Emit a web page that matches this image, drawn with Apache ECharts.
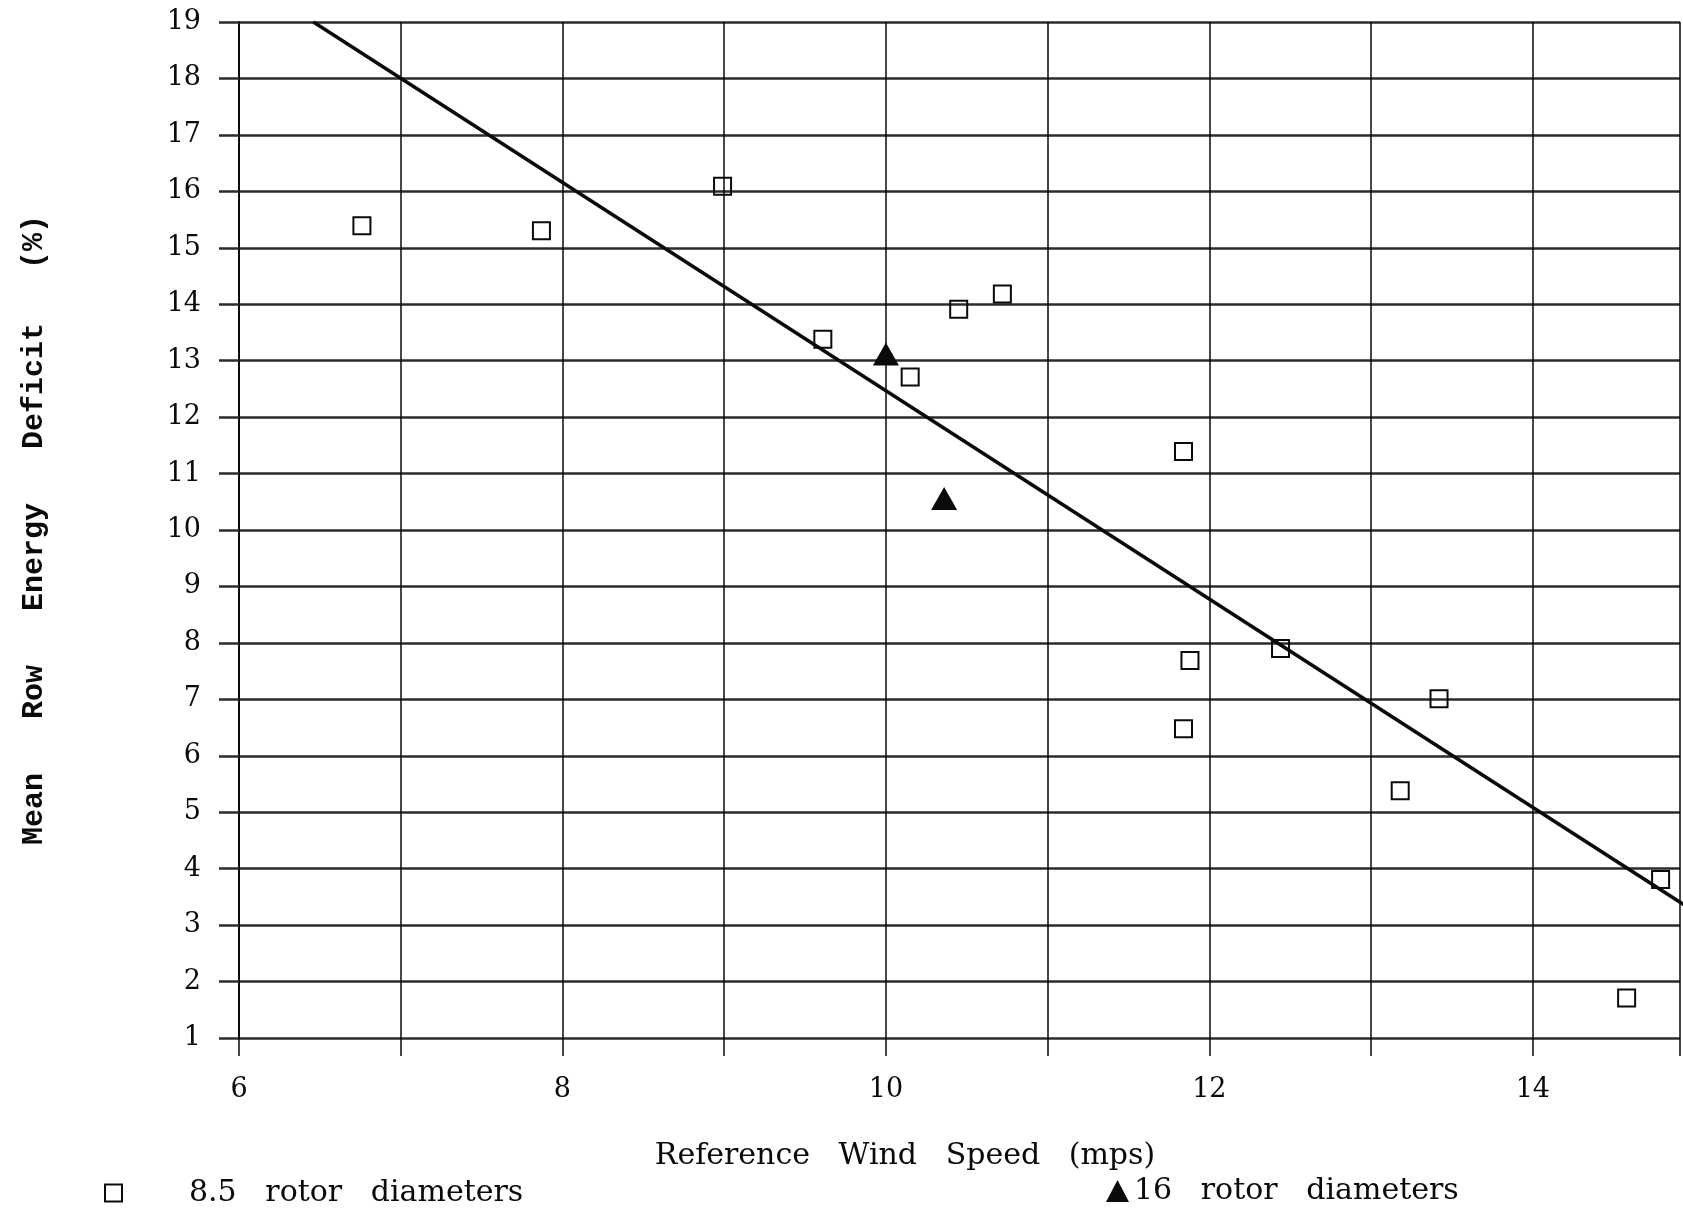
<!DOCTYPE html>
<html>
<head>
<meta charset="utf-8">
<script src="https://cdn.jsdelivr.net/npm/echarts@6/dist/echarts.min.js"></script>
<style>
  html, body { margin: 0; padding: 0; background: #ffffff; }
  #chart { width: 1683px; height: 1208px; }
</style>
</head>
<body>
<div id="chart"></div>
<script>
// ---- data ----
const seriesNames = ['8.5 rotor diameters', '16 rotor diameters'];

const rotor85X = [6.76, 7.87, 8.99, 9.61, 10.15, 10.45, 10.72, 11.84, 11.88, 11.84, 12.44, 13.18, 13.42, 14.58, 14.79];
const rotor85Y = [15.39, 15.30, 16.09, 13.38, 12.71, 13.91, 14.18, 11.39, 7.69, 6.48, 7.90, 5.38, 7.01, 1.71, 3.81];

const rotor16X = [10.00, 10.36];
const rotor16Y = [13.12, 10.56];

// regression line end points
const fitX = [6.46, 15];
const fitY = [19, 3.24];

const xLabelValues = [6, 8, 10, 12, 14];

const xTitle = 'Reference   Wind   Speed   (mps)';
const yTitle = 'Mean   Row   Energy   Deficit   (%)';

// ---- chart ----
const pairs = (xs, ys) => xs.map((x, i) => [x, ys[i]]);
const INK = '#0a0a0a';
const serif = 'DejaVu Serif';

const chart = echarts.init(document.getElementById('chart'), null, { renderer: 'canvas' });

chart.setOption({
  animation: false,
  backgroundColor: '#ffffff',
  grid: { left: 239, right: 0, top: 22, bottom: 170, containLabel: false },
  xAxis: {
    type: 'value', min: 6, max: 14.91, interval: 1,
    name: xTitle, nameLocation: 'middle', nameGap: 103,
    nameTextStyle: { fontFamily: serif, fontSize: 30, color: INK, padding: [0, 109, 0, 0] },
    axisLine: { show: false },
    axisTick: { show: true, length: 18, lineStyle: { color: INK, width: 1.5 } },
    axisLabel: {
      margin: 38, fontFamily: serif, fontSize: 27, color: INK,
      formatter: v => (xLabelValues.indexOf(v) >= 0 ? String(v) : '')
    },
    splitLine: { show: true, lineStyle: { color: INK, width: 1.5 } }
  },
  yAxis: {
    type: 'value', min: 1, max: 19, interval: 1,
    name: yTitle, nameLocation: 'middle', nameGap: 190, nameRotate: 90,
    nameTextStyle: { fontFamily: 'Liberation Mono', fontSize: 30, fontWeight: 'bold', color: INK },
    axisLine: { show: true, lineStyle: { color: INK, width: 2 } },
    axisTick: { show: true, length: 20, lineStyle: { color: '#2b2b2b', width: 2.5 } },
    axisLabel: { margin: 38, fontFamily: serif, fontSize: 27, color: INK },
    splitLine: { show: true, lineStyle: { color: '#2b2b2b', width: 2.5 } }
  },
  legend: [
    {
      left: 99, top: 1173, itemWidth: 17, itemHeight: 17,
      selectedMode: false,
      data: [{ name: seriesNames[0], icon: 'rect',
               itemStyle: { color: 'rgba(0,0,0,0)', borderColor: INK, borderWidth: 2, opacity: 1 } }],
      formatter: n => n.replace(/ /g, '   '),
      textStyle: { fontFamily: serif, fontSize: 30, color: INK, padding: [0, 0, 0, 62] }
    },
    {
      left: 1101, top: 1171, itemWidth: 23, itemHeight: 22,
      selectedMode: false,
      data: [{ name: seriesNames[1], icon: 'triangle', itemStyle: { color: INK, opacity: 1 } }],
      formatter: n => n.replace(/ /g, '   '),
      textStyle: { fontFamily: serif, fontSize: 30, color: INK }
    }
  ],
  series: [
    {
      name: 'fit', type: 'line', data: pairs(fitX, fitY),
      showSymbol: false, silent: true, z: 2,
      lineStyle: { color: INK, width: 3.5 }
    },
    {
      name: seriesNames[0], type: 'scatter', data: pairs(rotor85X, rotor85Y),
      symbol: 'rect', symbolSize: 17, z: 3,
      itemStyle: { color: 'rgba(0,0,0,0)', borderColor: INK, borderWidth: 2, opacity: 1 }
    },
    {
      name: seriesNames[1], type: 'scatter', data: pairs(rotor16X, rotor16Y),
      symbol: 'triangle', symbolSize: [26, 23], z: 3,
      itemStyle: { color: INK, opacity: 1 }
    }
  ]
});
</script>
</body>
</html>
